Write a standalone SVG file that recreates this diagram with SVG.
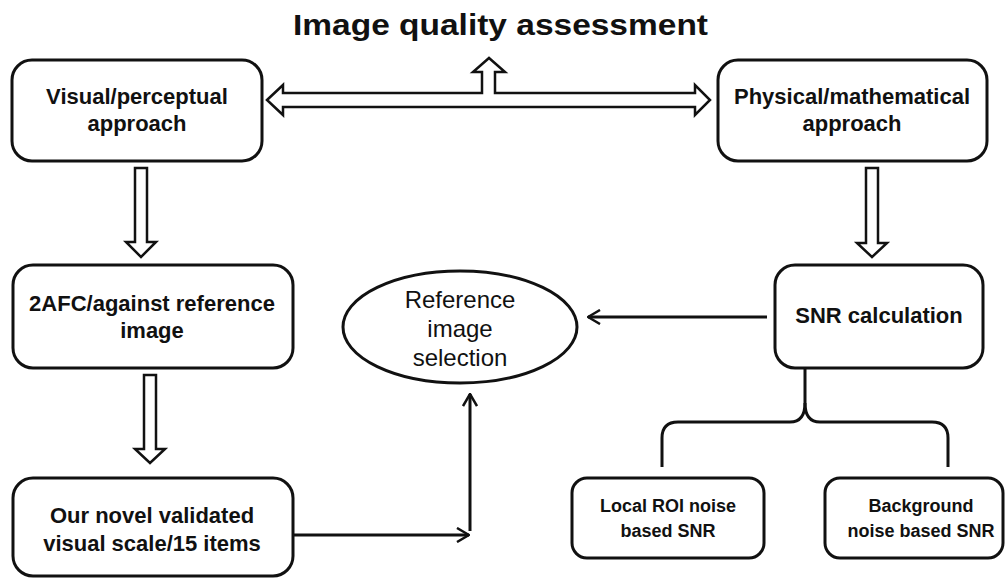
<svg xmlns="http://www.w3.org/2000/svg" width="1007" height="580" viewBox="0 0 1007 580">
  <style>
    .box { fill: #ffffff; stroke: #111111; stroke-width: 3; }
    .lbl { font-family: "Liberation Sans", Arial, sans-serif; font-weight: bold; font-size: 22px; fill: #111111; text-anchor: middle; }
    .sm { font-size: 18px; }
    .reg { font-family: "Liberation Sans", Arial, sans-serif; font-size: 24px; fill: #111111; text-anchor: middle; }
    .hollow { fill: #ffffff; stroke: #111111; stroke-width: 2.5; stroke-linejoin: miter; }
    .line { fill: none; stroke: #111111; stroke-width: 3; }
  </style>
  <defs>
    <marker id="openhead" viewBox="0 0 14 16" refX="13" refY="8" markerWidth="14" markerHeight="16" orient="auto" markerUnits="userSpaceOnUse">
      <path d="M1,1 L13,8 L1,15" fill="none" stroke="#111111" stroke-width="2.5"/>
    </marker>
  </defs>
  <rect width="1007" height="580" fill="#ffffff"/>

  <text id="title" x="293" y="35" textLength="415" lengthAdjust="spacingAndGlyphs" style="font-family: 'Liberation Sans', Arial, sans-serif; font-weight: bold; font-size: 29px; fill: #111111;">Image quality assessment</text>

  <g id="connectors">
    <!-- two-way hollow arrow with upward branch to the title -->
    <polygon class="hollow" points="267,100 283,85 283,93 482,93 482,72 473,72 489,58 505,72 495,72 495,93 695,93 695,85 710,100 695,115 695,107 283,107 283,115"/>
    <!-- hollow down arrows -->
    <polygon class="hollow" points="135,168 147,168 147,242 156,242 141,257 126,242 135,242"/>
    <polygon class="hollow" points="866,168 878,168 878,243 887,243 872,257 857,243 866,243"/>
    <polygon class="hollow" points="144,375 156,375 156,449 165,449 150,463 135,449 144,449"/>
    <!-- line arrows into the selection ellipse -->
    <line class="line" x1="767" y1="317" x2="588" y2="317" marker-end="url(#openhead)"/>
    <line class="line" x1="293" y1="535" x2="469" y2="535" marker-end="url(#openhead)"/>
    <line class="line" x1="470" y1="531" x2="470" y2="394" marker-end="url(#openhead)"/>
    <!-- brace splitting the SNR calculation -->
    <path class="line" d="M805,368 L805,403 Q805,422 790,422 L678,422 Q662,422 662,438 L662,467"/>
    <path class="line" d="M805,403 Q805,422 820,422 L932,422 Q948,422 948,438 L948,467"/>
  </g>

  <g id="visual">
    <rect class="box" x="12" y="60" width="250" height="101" rx="20"/>
    <text class="lbl" x="137" y="104">Visual/perceptual</text>
    <text class="lbl" x="137" y="131">approach</text>
  </g>

  <g id="physical">
    <rect class="box" x="718" y="60" width="269" height="101" rx="20"/>
    <text class="lbl" x="852" y="104">Physical/mathematical</text>
    <text class="lbl" x="852" y="131">approach</text>
  </g>

  <g id="afc">
    <rect class="box" x="13" y="265" width="280" height="103" rx="20"/>
    <text class="lbl" x="152" y="311">2AFC/against reference</text>
    <text class="lbl" x="152" y="338">image</text>
  </g>

  <g id="selection">
    <ellipse cx="460" cy="327" rx="117" ry="56" fill="#ffffff" stroke="#111111" stroke-width="3"/>
    <text class="reg" x="460" y="308">Reference</text>
    <text class="reg" x="460" y="337">image</text>
    <text class="reg" x="460" y="366">selection</text>
  </g>

  <g id="snr">
    <rect class="box" x="775" y="265" width="208" height="103" rx="20"/>
    <text class="lbl" x="879" y="323">SNR calculation</text>
  </g>

  <g id="novel">
    <rect class="box" x="13" y="478" width="280" height="98" rx="20"/>
    <text class="lbl" x="152" y="523">Our novel validated</text>
    <text class="lbl" x="152" y="551">visual scale/15 items</text>
  </g>

  <g id="local-roi">
    <rect class="box" x="572" y="478" width="192" height="80" rx="15"/>
    <text class="lbl sm" x="668" y="512">Local ROI noise</text>
    <text class="lbl sm" x="668" y="537">based SNR</text>
  </g>

  <g id="background">
    <rect class="box" x="825" y="478" width="178" height="80" rx="15"/>
    <text class="lbl sm" x="921" y="512">Background</text>
    <text class="lbl sm" x="921" y="537">noise based SNR</text>
  </g>
</svg>
